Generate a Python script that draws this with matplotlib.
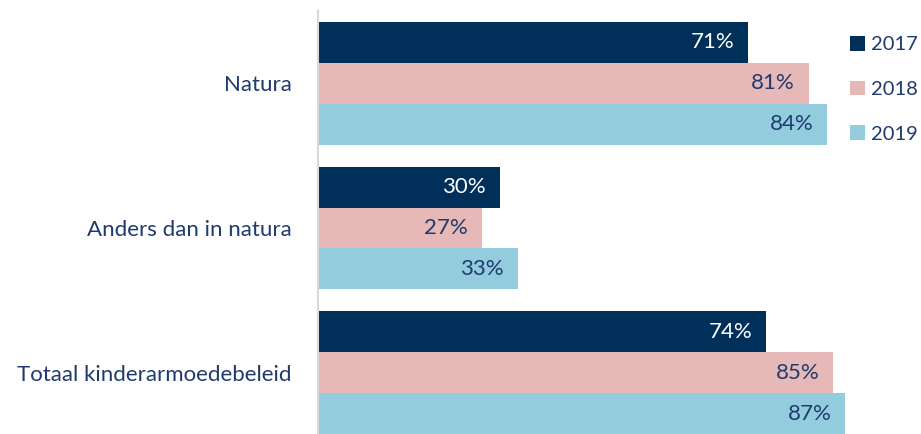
import matplotlib.pyplot as plt
import numpy as np

# data
categories = ['Natura', 'Anders dan in natura', 'Totaal kinderarmoedebeleid']
years = ['2017', '2018', '2019']
values = {
    '2017': [71, 30, 74],
    '2018': [81, 27, 85],
    '2019': [84, 33, 87],
}

colors = ['#002F5A', '#E6B8B7', '#93CDDD']
label_colors = ['white', '#1F3A6E', '#1F3A6E']
text_color = '#1F3A6E'

plt.rcParams['font.family'] = ['Lato', 'DejaVu Sans']

fig = plt.figure(figsize=(9.21, 4.34), dpi=100)
ax = fig.add_axes([318 / 921, 0, 1 - 318 / 921, 1 - 11 / 434])

h = 41 / 145
pos = np.arange(len(categories))
for i, yr in enumerate(years):
    ypos = pos + (i - 1) * h
    bars = ax.barh(ypos, values[yr], height=h, color=colors[i], label=yr)
    for b, v in zip(bars, values[yr]):
        ax.text(v - 2.3, b.get_y() + b.get_height() / 2, f'{v}%',
                ha='right', va='center', fontsize=16, color=label_colors[i])

ax.set_xlim(0, 99.5)
ax.set_ylim(2 + 61.5 / 145, -0.5)
ax.set_yticks(pos)
ax.set_yticklabels(categories, fontsize=16, color=text_color)
ax.tick_params(axis='y', length=0, pad=19)
ax.set_xticks([])
for s in ['top', 'right', 'bottom']:
    ax.spines[s].set_visible(False)
ax.spines['left'].set_color('#D9D9D9')
ax.spines['left'].set_linewidth(1.5)

leg = fig.legend(loc='upper left', bbox_to_anchor=(850 / 921, 1 - 36 / 434),
                 frameon=False, fontsize=14.5, handlelength=0.75, handleheight=0.75,
                 handletextpad=0.3, labelspacing=1.35, borderaxespad=0, borderpad=0)
for t in leg.get_texts():
    t.set_color(text_color)

fig.savefig('out.png', dpi=100)
